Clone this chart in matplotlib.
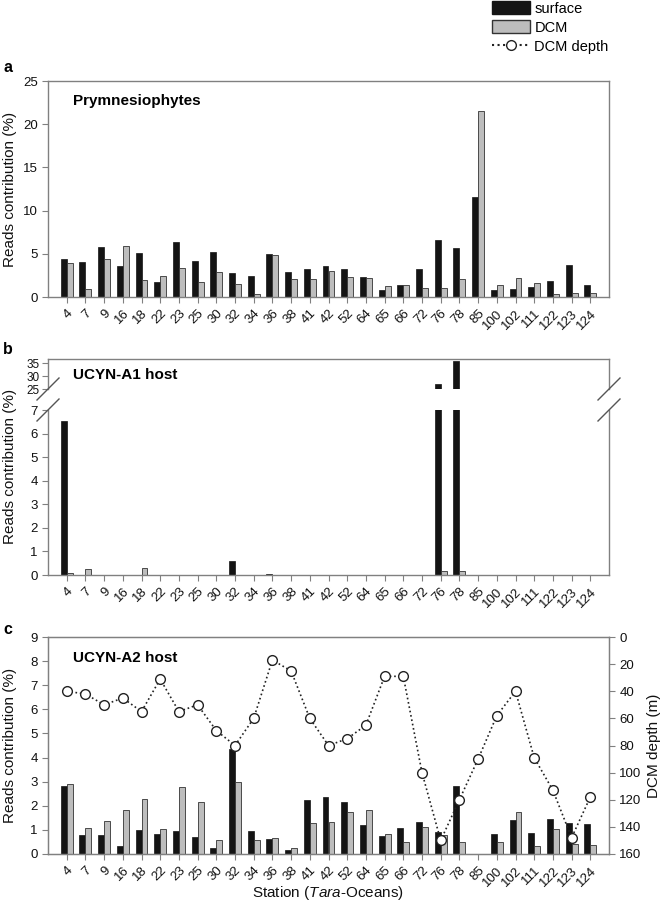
import numpy as np
import matplotlib
matplotlib.use('Agg')
import matplotlib.pyplot as plt
from matplotlib.lines import Line2D
from matplotlib.patches import Patch

plt.rcParams['font.family'] = ['Liberation Sans', 'DejaVu Sans']
plt.rcParams['mathtext.fontset'] = 'custom'
plt.rcParams['mathtext.rm'] = 'Liberation Sans'
plt.rcParams['mathtext.it'] = 'Liberation Sans:italic'

# stations (Tara-Oceans)
stations = ['4', '7', '9', '16', '18', '22', '23', '25', '30', '32', '34', '36', '38', '41', '42',
            '52', '64', '65', '66', '72', '76', '78', '85', '100', '102', '111', '122', '123', '124']

# a: Prymnesiophytes
prym_surf = [4.42, 4.04, 5.77, 3.58, 5.12, 1.73, 6.35, 4.12, 5.23, 2.81, 2.42, 4.92, 2.88, 3.27, 3.54,
             3.27, 2.31, 0.77, 1.42, 3.23, 6.62, 5.65, 11.54, 0.77, 0.96, 1.12, 1.88, 3.73, 1.42]
prym_dcm = [3.96, 0.96, 4.38, 5.96, 2.0, 2.46, 3.31, 1.77, 2.88, 1.5, 0.38, 4.88, 2.04, 2.04, 2.96,
            2.31, 2.23, 1.23, 1.42, 1.08, 1.04, 2.04, 21.5, 1.38, 2.15, 1.58, 0.38, 0.42, 0.42]

# b: UCYN-A1 host
a1_surf = [6.55, 0, 0, 0, 0, 0, 0, 0, 0, 0.59, 0, 0.06, 0, 0, 0,
           0, 0.02, 0, 0, 0, 26.8, 35.8, 0, 0, 0, 0, 0, 0, 0]
a1_dcm = [0.09, 0.27, 0, 0, 0.31, 0, 0, 0, 0, 0, 0, 0, 0, 0, 0,
          0, 0, 0, 0.01, 0, 0.17, 0.17, 0, 0, 0, 0, 0, 0, 0]

# c: UCYN-A2 host
a2_surf = [2.81, 0.80, 0.80, 0.33, 1.01, 0.83, 0.96, 0.71, 0.24, 4.34, 0.96, 0.62, 0.18, 2.26, 2.35,
           2.15, 1.19, 0.73, 1.07, 1.33, 0.91, 2.81, 0, 0.82, 1.41, 0.87, 1.44, 1.29, 1.23]
a2_dcm = [2.92, 1.08, 1.37, 1.83, 2.27, 1.02, 2.78, 2.16, 0.58, 2.99, 0.58, 0.66, 0.24, 1.29, 1.34,
          1.73, 1.84, 0.83, 0.50, 1.11, 0.80, 0.50, 0, 0.50, 1.76, 0.33, 1.02, 0.42, 0.37]
dcm_depth = [40, 42, 50, 45, 55, 31, 55, 50, 69, 80, 60, 17, 25, 60, 80,
             75, 65, 29, 29, 100, 150, 120, 90, 58, 40, 89, 113, 148, 118]

W, H = 663, 906
fig = plt.figure(figsize=(W / 100, H / 100), dpi=100)

def rect(l, t, r, b):
    return [l / W, 1 - b / H, (r - l) / W, (b - t) / H]

x = np.arange(len(stations))
bw = 0.32
spine_c = '#808080'
surf_c = '#141414'
dcm_c = '#bdbdbd'

def style(ax, xlabels=True):
    for s in ax.spines.values():
        s.set_color(spine_c)
        s.set_linewidth(1.0)
    ax.tick_params(colors=spine_c, labelcolor='#111111', length=4, labelsize=9.5)
    ax.set_xlim(-1, len(stations))
    ax.set_xticks(x)
    if xlabels:
        ax.set_xticklabels(stations, rotation=45, ha='right', rotation_mode='anchor')
    else:
        ax.tick_params(axis='x', bottom=False, labelbottom=False)

def bars(ax, s, d):
    ax.bar(x - bw, s, bw, align='edge', color=surf_c, edgecolor=surf_c, linewidth=0.5)
    ax.bar(x, d, bw, align='edge', color=dcm_c, edgecolor='#333333', linewidth=0.6)

# panel a
ax1 = fig.add_axes(rect(48, 81, 609, 297))
bars(ax1, prym_surf, prym_dcm)
ax1.set_ylim(0, 25)
ax1.set_yticks([0, 5, 10, 15, 20, 25])
style(ax1)

# panel b (broken axis)
ax2u = fig.add_axes(rect(48, 359, 609, 389))
ax2l = fig.add_axes(rect(48, 410, 609, 575))
bars(ax2u, a1_surf, a1_dcm)
bars(ax2l, a1_surf, a1_dcm)
ax2u.set_ylim(25, 36.6)
ax2u.set_yticks([25, 30, 35])
ax2l.set_ylim(0, 7)
ax2l.set_yticks(range(8))
style(ax2u, xlabels=False)
style(ax2l)
ax2u.spines['bottom'].set_visible(False)
ax2l.spines['top'].set_visible(False)
ax2u.tick_params(axis='y', pad=2, labelsize=8.5)
for xp in (48, 609):
    for yp in (389, 410):
        fig.add_artist(Line2D([(xp - 11) / W, (xp + 11) / W], [1 - (yp + 11) / H, 1 - (yp - 11) / H],
                              color='#555555', lw=1.0, transform=fig.transFigure, clip_on=False))

# panel c
ax3 = fig.add_axes(rect(48, 637, 609, 854))
bars(ax3, a2_surf, a2_dcm)
ax3.set_ylim(0, 9)
ax3.set_yticks(range(10))
style(ax3)
ax3r = ax3.twinx()
ax3r.plot(x, dcm_depth, ':', color='#222222', lw=1.2, marker='o', ms=7,
          mfc='white', mec='#222222', mew=1.0)
ax3r.set_ylim(160, 0)
ax3r.set_yticks(range(0, 161, 20))
for s in ax3r.spines.values():
    s.set_color(spine_c)
ax3r.tick_params(colors=spine_c, labelcolor='#111111', length=4, labelsize=9.5)
ax3r.set_ylabel('DCM depth (m)', fontsize=11, color='#111111', labelpad=4)

# titles, panel letters, labels
fig.text(73 / W, 1 - 101 / H, 'Prymnesiophytes', fontsize=11, fontweight='bold', va='center')
fig.text(73 / W, 1 - 375 / H, 'UCYN-A1 host', fontsize=11, fontweight='bold', va='center')
fig.text(73 / W, 1 - 658 / H, 'UCYN-A2 host', fontsize=11, fontweight='bold', va='center')
for lt, yp in (('a', 68), ('b', 350), ('c', 630)):
    fig.text(3 / W, 1 - yp / H, lt, fontsize=11.5, fontweight='bold', va='center')
for yp in (189, 466, 745):
    fig.text(10 / W, 1 - yp / H, 'Reads contribution (%)', fontsize=11, rotation=90,
             ha='center', va='center', color='#111111')
fig.text(328 / W, 1 - 893 / H, 'Station ($\\it{Tara}$-Oceans)', fontsize=11,
         ha='center', va='center', color='#111111')

handles = [Patch(facecolor=surf_c, edgecolor=surf_c),
           Patch(facecolor=dcm_c, edgecolor='#333333'),
           Line2D([], [], ls=':', color='#222222', marker='o', ms=7, mfc='white', mec='#222222')]
fig.legend(handles, ['surface', 'DCM', 'DCM depth'], loc='upper left',
           bbox_to_anchor=(479 / W, 1.013), frameon=False, fontsize=10.5,
           handlelength=2.6, handleheight=1.0, handletextpad=0.3, labelspacing=0.3)

fig.savefig('out.png', dpi=100)
